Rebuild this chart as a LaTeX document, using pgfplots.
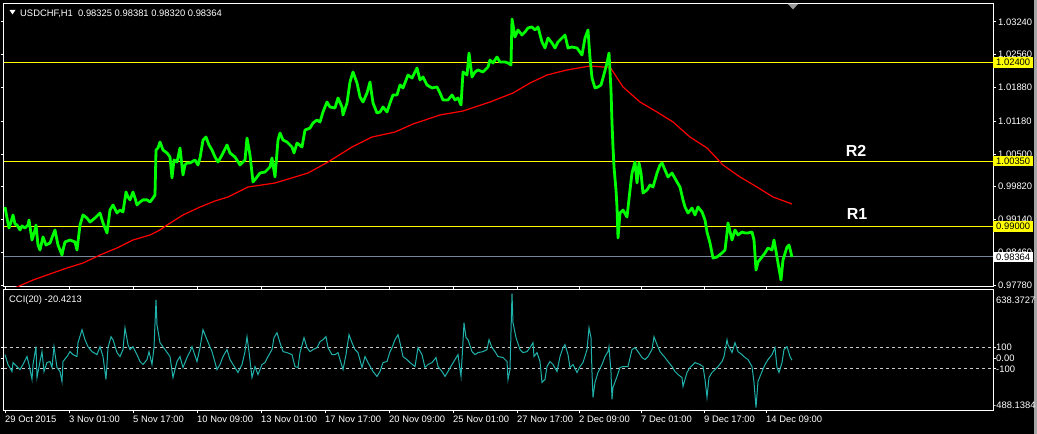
\documentclass[border=0pt]{standalone}
\usepackage{fontspec}
\setmainfont{Liberation Sans}
\usepackage{pgfplots}
\usepackage{pgfplotstable}
\pgfplotsset{compat=1.18}
\definecolor{mtgreen}{HTML}{00FF00}
\definecolor{mtred}{HTML}{FF0000}
\definecolor{ccicol}{HTML}{20B2AA}
\definecolor{lvl}{HTML}{FFFF00}
\definecolor{cur}{HTML}{778899}
\definecolor{dashcol}{HTML}{C8C8C8}

\pgfplotstableread{
x p
5 0.99400
7 0.99172
9 0.98965
11 0.99089
13 0.99235
15 0.99048
17 0.99027
20 0.98924
22 0.99007
25 0.98965
28 0.99027
29 0.99131
32 0.98716
35 0.98924
36 0.99027
38 0.98613
40 0.98509
43 0.98779
46 0.98613
50 0.98654
53 0.98820
55 0.98924
58 0.98613
62 0.98405
63 0.98509
65 0.98675
70 0.98716
75 0.98675
77 0.98509
80 0.99027
83 0.99235
87 0.99172
90 0.99089
95 0.99172
100 0.99276
103 0.99069
107 0.98862
110 0.99338
113 0.99442
117 0.99276
120 0.99338
123 0.99297
126 0.99711
128 0.99608
130 0.99548
133 0.99711
135 0.99587
137 0.99442
140 0.99504
143 0.99548
147 0.99548
150 0.99504
153 0.99587
155 0.99649
156 1.00582
158 1.00624
160 1.00748
163 1.00582
167 1.00520
170 1.00437
172 1.00002
174 1.00375
177 1.00333
180 1.00624
183 1.00064
185 1.00271
187 1.00313
190 1.00313
195 1.00375
198 1.00271
200 1.00416
203 1.00789
206 1.00851
209 1.00686
212 1.00582
215 1.00437
218 1.00333
222 1.00478
227 1.00686
230 1.00520
235 1.00437
240 1.00271
245 1.00375
247 1.00830
250 1.00478
253 0.99919
257 1.00023
260 1.00105
265 1.00126
270 1.00230
272 1.00416
275 1.00023
278 1.00789
280 1.00934
283 1.00789
287 1.00748
292 1.00644
294 1.00520
297 1.00727
302 1.00644
305 1.00996
310 1.01037
313 1.01142
317 1.01204
320 1.01163
323 1.01370
327 1.01577
330 1.01474
335 1.01453
338 1.01661
342 1.01474
343 1.01308
347 1.01558
350 1.01992
353 1.02199
357 1.01971
360 1.01682
363 1.01577
367 1.01764
370 1.01992
373 1.01558
377 1.01349
380 1.01370
383 1.01474
387 1.01370
390 1.01558
393 1.01723
397 1.01723
400 1.01930
403 1.01868
408 1.02137
412 1.02075
417 1.02282
420 1.02033
423 1.02096
427 1.01930
432 1.01868
437 1.01889
440 1.01764
443 1.01619
448 1.01619
452 1.01723
455 1.01619
458 1.01661
461 1.01515
463 1.02199
467 1.02137
469 1.02593
472 1.02096
475 1.02199
478 1.02241
483 1.02199
488 1.02303
490 1.02448
493 1.02386
497 1.02510
500 1.02407
505 1.02407
508 1.02386
511 1.02344
512 1.03298
515 1.02925
518 1.03070
522 1.02966
525 1.03029
528 1.03112
532 1.03132
535 1.03070
538 1.03132
542 1.02821
545 1.02697
548 1.02904
552 1.02800
555 1.02697
558 1.02821
562 1.02904
565 1.02966
568 1.02697
572 1.02718
577 1.02697
582 1.02552
585 1.02904
588 1.03070
590 1.02490
592 1.02075
595 1.01868
598 1.01889
601 1.01930
603 1.02075
607 1.02386
609 1.02593
611 1.01826
612 1.01142
613 1.00644
614 1.00230
616 0.99753
617 0.99400
618 0.98758
620 0.99276
623 0.99338
627 0.99193
630 0.99753
632 1.00105
635 1.00333
637 0.99898
639 1.00313
641 1.00105
643 0.99691
647 0.99753
650 0.99857
653 0.99815
657 1.00105
660 1.00271
662 1.00313
665 1.00168
668 1.00023
672 1.00105
677 0.99919
680 0.99815
683 0.99548
685 0.99400
688 0.99276
692 0.99379
695 0.99235
698 0.99400
702 0.99297
705 0.99131
707 0.98882
710 0.98654
713 0.98343
717 0.98364
722 0.98447
725 0.98509
727 0.98862
728 0.99069
732 0.98716
735 0.98924
738 0.98820
742 0.98882
745 0.98862
748 0.98862
752 0.98882
754 0.98716
756 0.98094
758 0.98260
762 0.98364
765 0.98447
768 0.98551
772 0.98509
774 0.98716
777 0.98364
778 0.98239
781 0.97887
783 0.98302
787 0.98571
789 0.98613
791 0.98447
792 0.98364
}\pricetable

\pgfplotstableread{
x p
5 0.97659
17 0.97742
33 0.97887
50 0.98012
67 0.98136
83 0.98239
100 0.98405
117 0.98551
133 0.98716
150 0.98820
160 0.98924
167 0.99027
183 0.99235
200 0.99400
215 0.99525
228 0.99608
248 0.99815
275 0.99898
295 1.00023
308 1.00105
328 1.00333
352 1.00644
372 1.00851
395 1.00955
413 1.01121
440 1.01308
463 1.01391
490 1.01577
513 1.01764
530 1.01971
547 1.02137
567 1.02241
590 1.02324
603 1.02303
610 1.02303
623 1.01889
640 1.01577
657 1.01370
673 1.01163
690 1.00851
707 1.00624
723 1.00271
740 1.00023
757 0.99815
773 0.99608
792 0.99463
}\matable

\pgfplotstableread{
x c
5 32
8 -60
12 -125
13 -42
17 -79
20 -107
23 -60
27 14
29 -60
32 -199
33 -60
36 106
37 -181
40 -32
42 60
44 -125
47 -42
50 -32
52 -88
54 106
57 -88
60 -125
62 -218
63 -32
67 14
70 60
73 32
77 14
78 143
82 264
85 171
88 106
92 60
97 32
100 106
103 14
106 -199
108 97
111 199
113 171
117 51
120 14
123 79
125 282
128 125
130 79
133 106
137 32
140 -32
143 -60
147 -14
149 60
152 -60
154 97
156 542
157 310
160 143
165 79
170 14
173 -181
177 -32
180 14
183 -88
187 5
190 60
192 106
197 -32
200 97
203 264
207 171
212 60
217 -107
220 -60
223 14
227 79
230 -14
233 -60
238 -134
242 -60
245 60
247 199
249 60
252 -181
255 -79
258 -153
262 -60
265 -42
268 14
272 79
274 190
277 236
280 143
283 60
287 51
292 32
295 -79
298 -88
300 51
304 190
307 97
310 60
313 79
317 97
320 153
323 171
326 199
328 97
332 32
335 32
338 51
343 -107
346 32
349 218
352 143
355 79
358 51
362 -88
365 14
368 -42
373 -125
377 -171
380 -125
383 -42
387 -32
390 60
392 97
395 171
398 218
400 143
403 14
407 -14
410 -42
415 -79
418 97
422 32
425 -88
428 -60
432 -42
436 5
438 -79
442 -125
445 -171
448 -125
452 -60
455 -14
458 32
460 -107
461 -171
463 153
464 329
466 190
468 171
472 60
475 32
478 51
483 60
487 79
489 171
492 97
495 60
498 14
503 5
507 -32
508 -199
510 -107
512 600
513 329
516 190
520 79
523 51
527 60
530 97
533 143
534 14
537 51
540 -32
542 -227
545 -199
547 -79
550 -32
553 -60
557 -125
560 14
563 97
565 125
568 32
570 -88
573 -60
577 -134
580 -79
583 -42
587 79
589 282
591 190
592 -134
593 -366
595 -227
598 -134
602 -60
605 14
608 60
609 106
611 -134
612 -384
613 -273
617 -171
620 -88
623 -79
628 -79
632 79
635 97
638 60
642 5
645 -14
648 14
652 79
654 199
657 125
660 60
665 5
668 -32
672 -79
675 -125
678 -153
682 -181
683 -264
687 -134
690 -88
695 -42
700 -60
703 -79
705 -199
707 -366
709 -181
712 -134
715 -107
718 -79
722 -32
724 14
727 171
728 125
732 51
735 143
738 60
742 32
745 5
748 -14
752 -79
754 -227
756 -460
758 -218
762 -125
765 -60
768 -14
772 32
775 97
777 -88
779 -134
782 -42
784 79
787 106
790 14
792 -20.42
}\ccitable

\begin{document}
\begin{tikzpicture}
\fill[black] (0pt,0pt) rectangle (1037pt,434pt);
\fill[gray!70] (1034pt,0pt) rectangle (1037pt,434pt);

% ---------------- main price panel ----------------
\begin{axis}[
  at={(4pt,147pt)}, anchor=south west,
  width=989pt, height=283pt, scale only axis,
  xmin=4, xmax=993, ymin=0.97742, ymax=1.03609,
  axis line style={white, line width=1pt},
  xtick=\empty,
  ytick={0.97780,0.98460,0.99140,0.99820,1.00500,1.01180,1.01880,1.02560,1.03240},
  yticklabels={0.97780,0.98460,0.99140,0.99820,1.00500,1.01180,1.01880,1.02560,1.03240},
  yticklabel pos=right,
  tick align=outside, major tick length=3pt,
  tick style={white, line width=0.8pt},
  yticklabel style={anchor=west, inner sep=0pt, xshift=2pt, text=white,
     font=\fontsize{9.4}{10}\selectfont},
  clip=true,
]
\addplot[lvl, line width=1pt] coordinates {(4,1.024) (993,1.024)};
\addplot[lvl, line width=1pt] coordinates {(4,1.0035) (993,1.0035)};
\addplot[lvl, line width=1pt] coordinates {(4,0.99) (993,0.99)};
\addplot[cur, line width=1pt] coordinates {(4,0.98364) (993,0.98364)};
\addplot[mtred, line width=1.2pt] table[x=x,y=p] {\matable};
\addplot[mtgreen, line width=2.8pt, line join=round] table[x=x,y=p] {\pricetable};
\coordinate (b1) at (axis cs:993,1.024);
\coordinate (b2) at (axis cs:993,1.0035);
\coordinate (b3) at (axis cs:993,0.99);
\coordinate (b4) at (axis cs:993,0.98364);
\coordinate (r2) at (axis cs:856,1.0057);
\coordinate (r1) at (axis cs:857,0.99255);
\end{axis}

% ---------------- CCI panel ----------------
\begin{axis}[
  at={(4pt,23.5pt)}, anchor=south west,
  width=989pt, height=121pt, scale only axis,
  xmin=4, xmax=993, ymin=-488.1384, ymax=638.3727,
  axis line style={white, line width=1pt},
  xtick={5,69,133,197,261,325,389,453,517,579,641,704,766},
  xticklabels={29 Oct 2015,3 Nov 01:00,5 Nov 17:00,10 Nov 09:00,13 Nov 01:00,17 Nov 17:00,20 Nov 09:00,25 Nov 01:00,27 Nov 17:00,2 Dec 09:00,7 Dec 01:00,9 Dec 17:00,14 Dec 09:00},
  xticklabel style={anchor=west, inner sep=0pt, yshift=-6pt, text=white,
     font=\fontsize{9.4}{10}\selectfont},
  ytick={-100,0,100},
  yticklabels={-100,0.00,100},
  yticklabel pos=right,
  tick align=outside, major tick length=3pt,
  tick style={white, line width=0.8pt},
  yticklabel style={anchor=west, inner sep=0pt, xshift=0pt, text=white,
     font=\fontsize{9.4}{10}\selectfont},
  clip=true,
]
\addplot[dashcol, line width=0.8pt, dash pattern=on 3pt off 3pt] coordinates {(4,100) (993,100)};
\addplot[dashcol, line width=0.8pt, dash pattern=on 3pt off 3pt] coordinates {(4,-100) (993,-100)};
\addplot[ccicol, line width=1pt] table[x=x,y=c] {\ccitable};
\end{axis}

% ---------------- labels and markers ----------------
\begin{scope}[every node/.style={font=\fontsize{9.4}{10}\selectfont, inner sep=0pt}]
\node[fill=lvl, text=black, anchor=west, minimum width=40pt, minimum height=10.5pt] at (b1) {1.02400};
\node[fill=lvl, text=black, anchor=west, minimum width=40pt, minimum height=10.5pt] at (b2) {1.00350};
\node[fill=lvl, text=black, anchor=west, minimum width=40pt, minimum height=10.5pt] at (b3) {0.99000};
\node[fill=white, text=black, anchor=west, minimum width=40pt, minimum height=10.5pt] at (b4) {0.98364};
\node[text=white, anchor=west] at (20pt,420.5pt) {USDCHF,H1\ \ 0.98325 0.98381 0.98320 0.98364};
\node[text=white, anchor=west] at (9pt,134pt) {CCI(20) -20.4213};
\node[text=white, anchor=west] at (996pt,134pt) {638.3727};
\node[text=white, anchor=west] at (993pt,29pt) {-488.1384};
\end{scope}
\fill[white] (9.5pt,424pt) -- (15.5pt,424pt) -- (12.5pt,419.5pt) -- cycle;
\fill[gray!80] (788pt,430pt) -- (798pt,430pt) -- (793pt,424.5pt) -- cycle;
\node[text=white, font=\fontsize{16}{17}\selectfont\bfseries, inner sep=0pt] at (r2) {R2};
\node[text=white, font=\fontsize{16}{17}\selectfont\bfseries, inner sep=0pt] at (r1) {R1};
\end{tikzpicture}
\end{document}
